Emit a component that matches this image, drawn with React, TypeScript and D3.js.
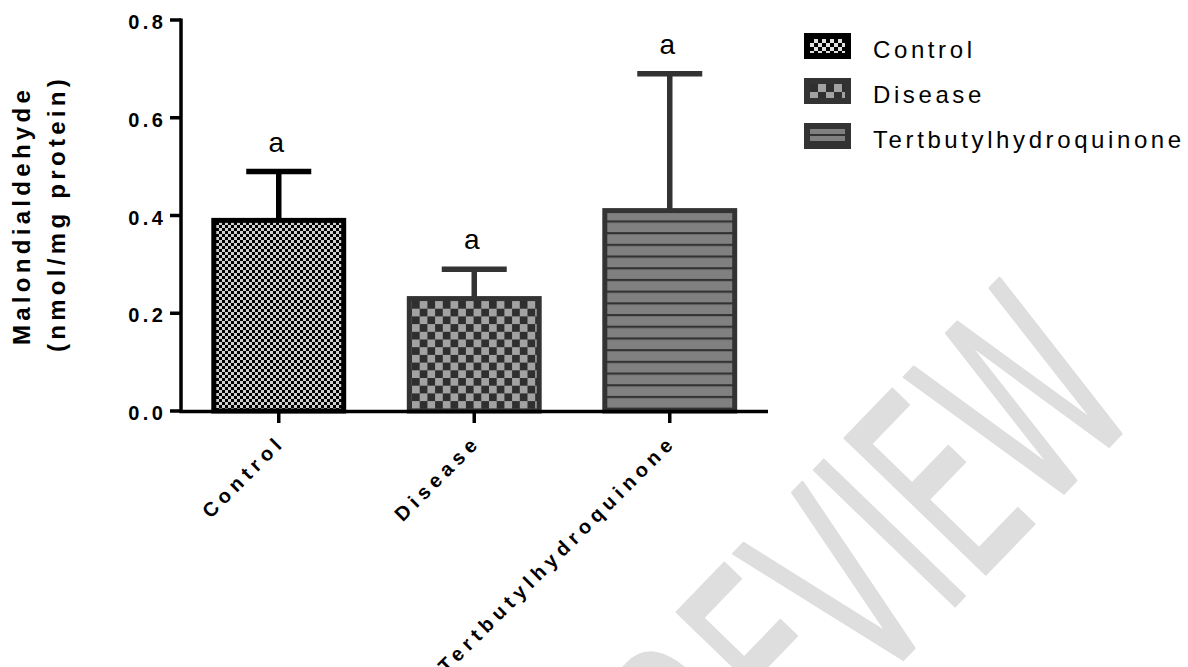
import React from "react";
import * as d3 from "d3";

const categories = ["Control", "Disease", "Tertbutylhydroquinone"];
const means = [0.39, 0.23, 0.41];
const upperErrors = [0.1, 0.06, 0.28];
const significance = ["a", "a", "a"];
const yTicks = [0, 0.2, 0.4, 0.6, 0.8];
const strokeColors = ["#000000", "#333333", "#333333"];
const patternIds = ["patControl", "patDisease", "patTert"];

const W = 1188;
const H = 667;
const FONT = "'Liberation Sans', Arial, Helvetica, sans-serif";

export default function App() {
  const x = d3
    .scaleBand<string>()
    .domain(categories)
    .range([181, 767.5])
    .paddingInner(0.31)
    .paddingOuter(0.155);
  const y = d3.scaleLinear().domain([0, 0.8]).range([411, 20]);
  const bw = x.bandwidth();
  const sw = 5;
  const capHalf = 32.5;
  const tickLs = 3.5;
  const xLabLs = 5.2;

  return (
    <svg
      width={W}
      height={H}
      viewBox={`0 0 ${W} ${H}`}
      style={{ position: "absolute", left: 0, top: 0, display: "block", background: "#fff" }}
    >
      <defs>
        <pattern id="patControl" patternUnits="userSpaceOnUse" width={6} height={6}>
          <rect width={6} height={6} fill="#cfcfcf" />
          <rect width={3} height={3} fill="#000" />
          <rect x={3} y={3} width={3} height={3} fill="#000" />
        </pattern>
        <pattern id="patDisease" patternUnits="userSpaceOnUse" width={15.4} height={15.4} x={412} y={301}>
          <rect width={15.4} height={15.4} fill="#a2a2a2" />
          <rect width={7.7} height={7.7} fill="#2f2f2f" />
          <rect x={7.7} y={7.7} width={7.7} height={7.7} fill="#2f2f2f" />
        </pattern>
        <pattern id="patTert" patternUnits="userSpaceOnUse" width={10} height={11.7} x={0} y={220.4}>
          <rect width={10} height={11.7} fill="#808080" />
          <rect width={10} height={2.2} fill="#333" />
        </pattern>
        <pattern id="legControl" patternUnits="userSpaceOnUse" width={8} height={8} x={810} y={39}>
          <rect width={8} height={8} fill="#e0e0e0" />
          <rect width={4} height={4} fill="#000" />
          <rect x={4} y={4} width={4} height={4} fill="#000" />
        </pattern>
        <pattern id="legDisease" patternUnits="userSpaceOnUse" width={16} height={16} x={810} y={84}>
          <rect width={16} height={16} fill="#a2a2a2" />
          <rect width={8} height={8} fill="#2f2f2f" />
          <rect x={8} y={8} width={8} height={8} fill="#2f2f2f" />
        </pattern>
        <pattern id="legTert" patternUnits="userSpaceOnUse" width={10} height={7} x={0} y={129}>
          <rect width={10} height={7} fill="#808080" />
          <rect y={5} width={10} height={2} fill="#333" />
        </pattern>
      </defs>

      {/* watermark */}
      <g transform="translate(1144,410) rotate(-46) scale(0.56,1)">
        <text
          textAnchor="end"
          fontFamily="'DejaVu Sans', sans-serif"
          fontSize={268}
          fill="#dedede"
          stroke="#dedede"
          strokeWidth={3}
          strokeLinejoin="round"
        >
          PREVIEW
        </text>
      </g>

      {/* bars */}
      {categories.map((c, i) => {
        const x0 = x(c)!;
        const cx = x0 + bw / 2;
        const top = y(means[i]);
        const errTop = y(means[i] + upperErrors[i]);
        return (
          <g key={c}>
            <line x1={cx} x2={cx} y1={top} y2={errTop} stroke={strokeColors[i]} strokeWidth={5.5} />
            <line x1={cx - capHalf} x2={cx + capHalf} y1={errTop} y2={errTop} stroke={strokeColors[i]} strokeWidth={5.5} />
            <rect
              x={x0 + sw / 2}
              y={top}
              width={bw - sw}
              height={y(0) - top}
              fill={`url(#${patternIds[i]})`}
              stroke={strokeColors[i]}
              strokeWidth={sw}
            />
            <text
              x={cx - 2.5}
              y={errTop - 20}
              textAnchor="middle"
              fontFamily={FONT}
              fontSize={28}
              fill="#000"
            >
              {significance[i]}
            </text>
          </g>
        );
      })}

      {/* y axis */}
      <line x1={181} x2={181} y1={18.5} y2={413} stroke="#000" strokeWidth={3.5} />
      {yTicks.map((t) => (
        <g key={t}>
          <line x1={170} x2={181} y1={y(t)} y2={y(t)} stroke="#000" strokeWidth={3.5} />
          <text
            x={163 + tickLs}
            y={y(t) + 9}
            textAnchor="end"
            fontFamily={FONT}
            fontWeight="bold"
            fontSize={20}
            style={{ letterSpacing: `${tickLs}px` }}
          >
            {t.toFixed(1)}
          </text>
        </g>
      ))}

      {/* x axis */}
      <line x1={179.5} x2={768} y1={411.5} y2={411.5} stroke="#000" strokeWidth={3.5} />
      {categories.map((c) => {
        const cx = x(c)! + bw / 2;
        return (
          <g key={c}>
            <line x1={cx} x2={cx} y1={411.5} y2={423} stroke="#000" strokeWidth={3.5} />
            <g transform={`translate(${cx + 4},447) rotate(-45)`}>
              <text
                x={xLabLs}
                textAnchor="end"
                fontFamily={FONT}
                fontWeight="bold"
                fontSize={20}
                style={{ letterSpacing: `${xLabLs}px` }}
              >
                {c}
              </text>
            </g>
          </g>
        );
      })}

      {/* y title */}
      <g transform="translate(30,215.5) rotate(-90)">
        <text textAnchor="middle" fontFamily={FONT} fontWeight="bold" fontSize={24} style={{ letterSpacing: "4.3px" }}>
          Malondialdehyde
        </text>
      </g>
      <g transform="translate(65,213.5) rotate(-90)">
        <text textAnchor="middle" fontFamily={FONT} fontWeight="bold" fontSize={24} style={{ letterSpacing: "4.3px" }}>
          (nmol/mg protein)
        </text>
      </g>

      {/* legend */}
      {categories.map((c, i) => {
        const top = 33 + i * 45;
        const legPat = ["legControl", "legDisease", "legTert"][i];
        return (
          <g key={c}>
            <rect
              x={807}
              y={top + 3}
              width={41}
              height={20}
              fill={`url(#${legPat})`}
              stroke={strokeColors[i]}
              strokeWidth={6}
            />
            <text
              x={873}
              y={top + 25}
              fontFamily={FONT}
              fontSize={24}
              style={{ letterSpacing: "3.6px" }}
            >
              {c}
            </text>
          </g>
        );
      })}
    </svg>
  );
}
